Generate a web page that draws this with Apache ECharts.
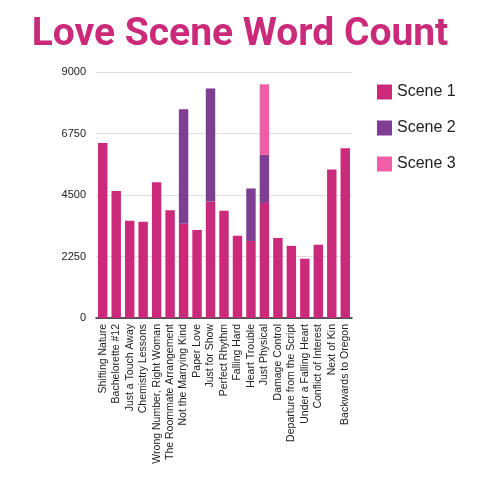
<!DOCTYPE html>
<html>
<head>
<meta charset="utf-8">
<script src="https://cdn.jsdelivr.net/npm/echarts@6/dist/echarts.min.js"></script>
<style>
  html, body { margin: 0; padding: 0; background: #fff; }
  #chart { width: 480px; height: 480px; }
</style>
</head>
<body>
<div id="chart"></div>
<script>
// 书名（横轴）
const books = [
    'Shifting Nature', 'Bachelorette #12', 'Just a Touch Away', 'Chemistry Lessons',
    'Wrong Number, Right Woman', 'The Roommate Arrangement', 'Not the Marrying Kind',
    'Paper Love', 'Just for Show', 'Perfect Rhythm', 'Falling Hard', 'Heart Trouble',
    'Just Physical', 'Damage Control', 'Departure from the Script', 'Under a Falling Heart',
    'Conflict of Interest', 'Next of Kin', 'Backwards to Oregon'
];
// 各场景字数
const scene1 = [6400, 4650, 3560, 3520, 4970, 3940, 3450, 3220, 4260, 3920, 3010, 2820, 4210, 2930, 2640, 2170, 2680, 5430, 6210];
const scene2 = [0, 0, 0, 0, 0, 0, 4190, 0, 4140, 0, 0, 1920, 1760, 0, 0, 0, 0, 0, 0];
const scene3 = [0, 0, 0, 0, 0, 0, 0, 0, 0, 0, 0, 0, 2580, 0, 0, 0, 0, 0, 0];
const yTicks = [0, 2250, 4500, 6750, 9000];

const seriesNames = ['Scene 1', 'Scene 2', 'Scene 3'];
const colors = ['#CB2A7B', '#7E3F92', '#EE5FA7'];

const chart = echarts.init(document.getElementById('chart'));

const option = {
    animation: false,
    title: {
        text: 'Love Scene Word Count',
        left: 'center',
        top: 11,
        textStyle: {
            fontFamily: 'Roboto',
            fontWeight: 'bold',
            fontSize: 39,
            color: '#CB2A7B'
        }
    },
    legend: {
        orient: 'vertical',
        left: 372,
        top: 79,
        itemWidth: 15,
        itemHeight: 15,
        itemGap: 20,
        icon: 'rect',
        data: seriesNames,
        textStyle: { fontFamily: 'Liberation Sans', fontSize: 16, color: '#222' }
    },
    grid: {
        left: 96,
        right: 128,
        top: 72,
        bottom: 162,
        containLabel: false
    },
    xAxis: {
        type: 'category',
        data: books,
        axisLine: { lineStyle: { color: '#222', width: 1.5 } },
        axisTick: { show: false },
        axisLabel: {
            interval: 0,
            rotate: 90,
            color: '#222',
            fontFamily: 'Liberation Sans',
            fontSize: 10.5,
            margin: 6
        }
    },
    yAxis: {
        type: 'value',
        min: yTicks[0],
        max: yTicks[yTicks.length - 1],
        interval: yTicks[1] - yTicks[0],
        axisLine: { show: false },
        axisTick: { show: false },
        axisLabel: {
            color: '#222',
            fontFamily: 'Liberation Sans',
            fontSize: 11,
            margin: 10,
            formatter: v => String(v)
        },
        splitLine: { lineStyle: { color: '#ddd' } }
    },
    series: [scene1, scene2, scene3].map((d, i) => ({
        name: seriesNames[i],
        type: 'bar',
        stack: 'words',
        barWidth: '70%',
        data: d,
        itemStyle: { color: colors[i] }
    }))
};

chart.setOption(option);
</script>
</body>
</html>
